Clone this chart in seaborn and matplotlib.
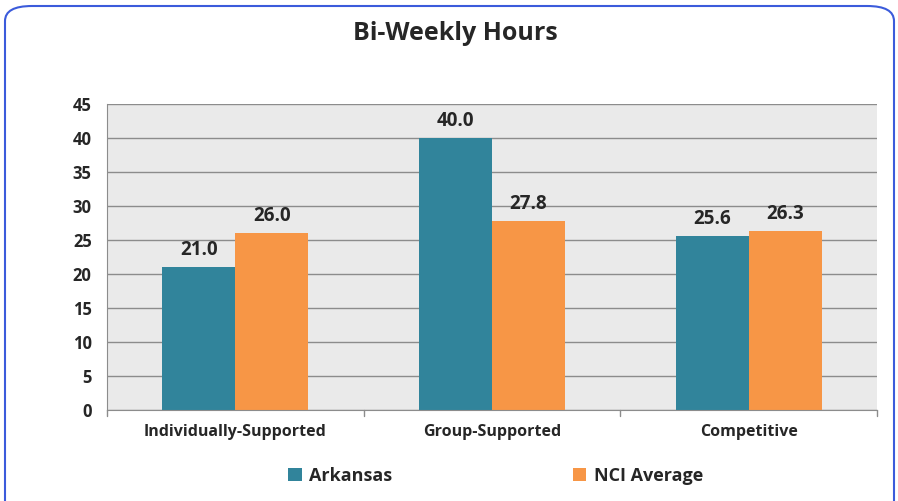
import pandas as pd
import seaborn as sns
import matplotlib

matplotlib.use("Agg")
import matplotlib.pyplot as plt
from matplotlib.patches import FancyBboxPatch, Patch

categories = ["Individually-Supported", "Group-Supported", "Competitive"]
arkansas = [21.0, 40.0, 25.6]
nci_average = [26.0, 27.8, 26.3]
series = ["Arkansas", "NCI Average"]
y_ticks = [0, 5, 10, 15, 20, 25, 30, 35, 40, 45]

colors = {"Arkansas": "#31849B", "NCI Average": "#F79646"}

df = pd.DataFrame({
    "category": categories * 2,
    "hours": arkansas + nci_average,
    "series": [series[0]] * 3 + [series[1]] * 3,
})

sns.set_style("white")
plt.rcParams["font.family"] = ["Open Sans", "DejaVu Sans"]

fig = plt.figure(figsize=(8.98, 5.01), dpi=100)
ax = fig.add_axes([107 / 898, 1 - 410 / 501, 770 / 898, 306 / 501])

# rounded blue frame around the whole chart
frame = FancyBboxPatch(
    (5 / 898, -20 / 501), 889 / 898, 515 / 501,
    boxstyle="round,pad=0,rounding_size=0.03",
    transform=fig.transFigure, fill=False, edgecolor="#3B5BDB", linewidth=1.5,
    zorder=-1,
)
fig.patches.append(frame)

sns.barplot(
    data=df, x="category", y="hours", hue="series", order=categories,
    hue_order=series, palette=colors, width=0.57, saturation=1,
    edgecolor="none", ax=ax, legend=False,
)

ax.set_facecolor("#EAEAEA")
ax.set_ylim(0, 45)
ax.set_xlim(-0.5, 2.5)
ax.set_yticks(y_ticks)
ax.yaxis.grid(True, color="#8C8C8C", linewidth=1)
ax.set_axisbelow(True)
for side in ["top", "right"]:
    ax.spines[side].set_visible(False)
ax.spines["left"].set_color("#8C8C8C")
ax.spines["bottom"].set_color("#8C8C8C")

ax.tick_params(axis="y", length=6, color="#8C8C8C", labelsize=12, pad=5)
ax.tick_params(axis="x", length=0, labelsize=11.5, pad=10)
for lbl in ax.get_yticklabels() + ax.get_xticklabels():
    lbl.set_fontweight("bold")
# small ticks between categories
for xb in [-0.5, 0.5, 1.5, 2.5]:
    ax.plot([xb, xb], [0, -0.9], color="#8C8C8C", linewidth=1, clip_on=False)

ax.set_xlabel("")
ax.set_ylabel("")

for container in ax.containers:
    ax.bar_label(container, fmt="%.1f", padding=5, fontsize=13.5, fontweight="bold")

fig.text(0.507, 1 - 34 / 501, "Bi-Weekly Hours", ha="center", va="center",
         fontsize=18, fontweight="bold")

handles = [Patch(facecolor=colors[s], edgecolor="none") for s in series]
leg = fig.legend(handles, series, loc="center", bbox_to_anchor=(0.552, 1 - 476 / 501),
                 ncol=2, frameon=False, columnspacing=10, handlelength=0.75,
                 handleheight=0.75, handletextpad=0.4,
                 prop={"weight": "bold", "size": 13})

plt.savefig("out.png", dpi=100, facecolor="white")
